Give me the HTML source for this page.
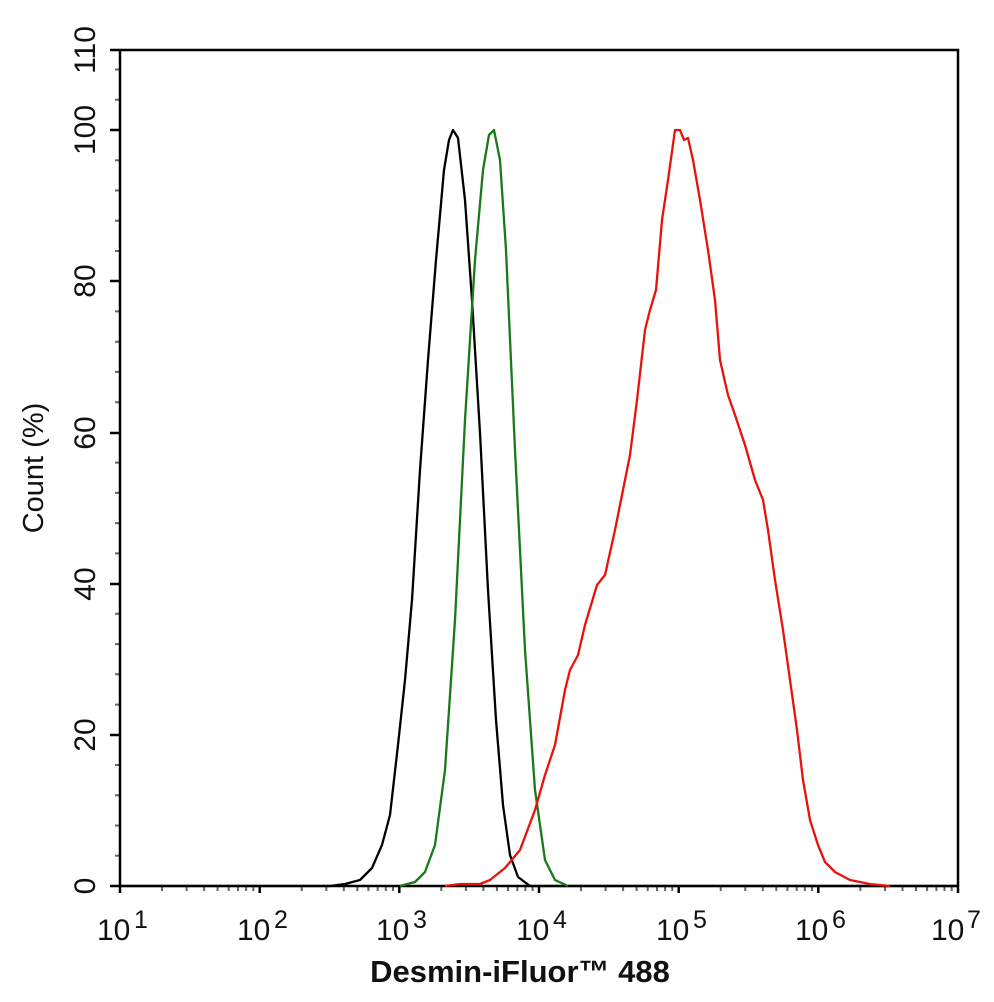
<!DOCTYPE html>
<html><head><style>body{margin:0;background:#fff}svg{display:block}</style></head><body>
<svg width="994" height="1002" viewBox="0 0 994 1002" xmlns="http://www.w3.org/2000/svg" font-family="Liberation Sans, Arial, sans-serif">
<rect width="994" height="1002" fill="#fff"/>
<g stroke="#666" stroke-width="2" fill="none">
<path d="M162 886v5M186.6 886v5M204.1 886v5M217.6 886v5M228.7 886v5M238 886v5M246.1 886v5M253.3 886v5
M301.7 886v5M326.3 886v5M343.8 886v5M357.3 886v5M368.4 886v5M377.7 886v5M385.8 886v5M393 886v5
M441.3 886v5M465.9 886v5M483.4 886v5M496.9 886v5M508 886v5M517.3 886v5M525.4 886v5M532.6 886v5
M581 886v5M605.6 886v5M623.1 886v5M636.6 886v5M647.7 886v5M657 886v5M665.1 886v5M672.3 886v5
M720.7 886v5M745.3 886v5M762.8 886v5M776.3 886v5M787.4 886v5M796.7 886v5M804.8 886v5M812 886v5
M860.4 886v5M885 886v5M902.5 886v5M916 886v5M927.1 886v5M936.4 886v5M944.5 886v5M951.7 886v5"/>
<path d="M115 855.8h5M115 825.5h5M115 795.3h5M115 765h5M115 704.6h5M115 674.3h5M115 644.1h5M115 613.8h5M115 553.4h5M115 523.1h5M115 492.9h5M115 462.6h5M115 402.2h5M115 371.9h5M115 341.7h5M115 311.4h5M115 251h5M115 220.7h5M115 190.5h5M115 160.2h5M115 99.8h5M115 69.5h5"/>
</g>
<g stroke="#000" stroke-width="2.5" fill="none">
<path d="M110 50H958V886M120 50V893M110 886H958"/>
<path d="M110 130H120M110 281H120M110 433H120M110 584H120M110 735H120"/>
<path d="M259.7 886V893M399.3 886V893M539 886V893M678.7 886V893M818.3 886V893M958 886V893"/>
</g>
<g fill="none" stroke-width="2.3" stroke-linejoin="round">
<path stroke="#000" d="M120 886L330 886L345 884L360 880L372 868L382 845L390 815L398 745L405 680L412 600L420 470L428 360L436 260L444 170L449 140L453 130L458 138L465 200L472 300L480 433L488 590L496 720L503 805L510 855L518 877L530 886L958 886"/>
<path stroke="#1a7a1a" d="M400 886L415 882L425 872L435 845L445 770L455 620L465 420L475 260L483 170L489 135L494 130L500 160L506 250L515 450L525 650L535 790L545 860L555 880L568 886"/>
<path stroke="#e8120c" d="M445 886L460 884L480 884L490 880L505 868L520 850L535 810L545 775L555 745L565 690L570 670L578 655L585 625L597 585L605 575L615 530L625 480L630 455L637 400L645 330L650 310L656 290L662 220L668 180L675 130L680 130L684 140L688 138L693 160L700 200L708 250L715 300L720 360L728 395L735 415L745 445L755 480L763 500L768 530L775 580L783 630L790 680L797 730L803 780L810 820L818 845L825 862L835 872L850 880L870 884L890 886"/>
</g>
<g font-size="30" fill="#111" text-anchor="middle">
<text transform="translate(95,886) rotate(-90)">0</text>
<text transform="translate(95,735) rotate(-90)">20</text>
<text transform="translate(95,584) rotate(-90)">40</text>
<text transform="translate(95,433) rotate(-90)">60</text>
<text transform="translate(95,281) rotate(-90)">80</text>
<text transform="translate(95,130) rotate(-90)">100</text>
<text transform="translate(95,50) rotate(-90)">110</text>
<text transform="translate(43,468) rotate(-90)" font-size="29">Count  (%)</text>
</g>
<g font-size="30" fill="#111">
<text x="97" y="940">10</text><text x="134" y="928" font-size="25">1</text>
<text x="237" y="940">10</text><text x="274" y="928" font-size="25">2</text>
<text x="376" y="940">10</text><text x="413" y="928" font-size="25">3</text>
<text x="516" y="940">10</text><text x="553" y="928" font-size="25">4</text>
<text x="656" y="940">10</text><text x="693" y="928" font-size="25">5</text>
<text x="795" y="940">10</text><text x="832" y="928" font-size="25">6</text>
<text x="931" y="940">10</text><text x="967" y="928" font-size="25">7</text>
</g>
<text x="520" y="982" font-size="31" font-weight="bold" text-anchor="middle" fill="#111">Desmin-iFluor™ 488</text>
</svg>
</body></html>
